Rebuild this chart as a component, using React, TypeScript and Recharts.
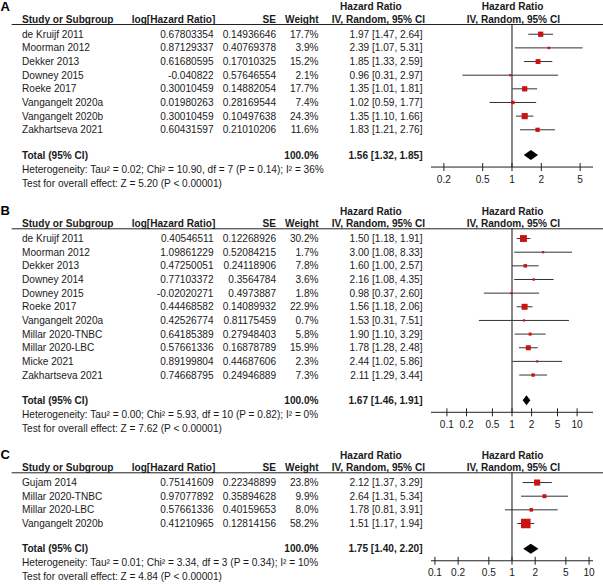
import React from 'react';
import { ComposedChart, XAxis, YAxis, Scatter, ErrorBar, ReferenceLine, ReferenceArea } from 'recharts';

// ---------- Panel A ----------
const aStudies = ['de Kruijf 2011', 'Moorman 2012', 'Dekker 2013', 'Downey 2015', 'Roeke 2017', 'Vangangelt 2020a', 'Vangangelt 2020b', 'Zakhartseva 2021'];
const aLogHR = ['0.67803354', '0.87129337', '0.61680595', '-0.040822', '0.30010459', '0.01980263', '0.30010459', '0.60431597'];
const aSE = ['0.14936646', '0.40769378', '0.17010325', '0.57646554', '0.14882054', '0.28169544', '0.10497638', '0.21010206'];
const aWeight = [17.7, 3.9, 15.2, 2.1, 17.7, 7.4, 24.3, 11.6];
const aHR = [1.97, 2.39, 1.85, 0.96, 1.35, 1.02, 1.35, 1.83];
const aLow = [1.47, 1.07, 1.33, 0.31, 1.01, 0.59, 1.10, 1.21];
const aHigh = [2.64, 5.31, 2.59, 2.97, 1.81, 1.77, 1.66, 2.76];
const aTotal = [1.56, 1.32, 1.85];
const aHet = 'Heterogeneity: Tau\u00b2 = 0.02; Chi\u00b2 = 10.90, df = 7 (P = 0.14); I\u00b2 = 36%';
const aTest = 'Test for overall effect: Z = 5.20 (P < 0.00001)';
const aTicks = [0.2, 0.5, 1, 2, 5];
const aDomain = [0.1475, 6.78];

// ---------- Panel B ----------
const bStudies = ['de Kruijf 2011', 'Moorman 2012', 'Dekker 2013', 'Downey 2014', 'Downey 2015', 'Roeke 2017', 'Vangangelt 2020a', 'Millar 2020-TNBC', 'Millar 2020-LBC', 'Micke 2021', 'Zakhartseva 2021'];
const bLogHR = ['0.40546511', '1.09861229', '0.47250051', '0.77103372', '-0.02020271', '0.44468582', '0.42526774', '0.64185389', '0.57661336', '0.89199804', '0.74668795'];
const bSE = ['0.12268926', '0.52084215', '0.24118906', '0.3564784', '0.4973887', '0.14089932', '0.81175459', '0.27948403', '0.16878789', '0.44687606', '0.24946889'];
const bWeight = [30.2, 1.7, 7.8, 3.6, 1.8, 22.9, 0.7, 5.8, 15.9, 2.3, 7.3];
const bHR = [1.50, 3.00, 1.60, 2.16, 0.98, 1.56, 1.53, 1.90, 1.78, 2.44, 2.11];
const bLow = [1.18, 1.08, 1.00, 1.08, 0.37, 1.18, 0.31, 1.10, 1.28, 1.02, 1.29];
const bHigh = [1.91, 8.33, 2.57, 4.35, 2.60, 2.06, 7.51, 3.29, 2.48, 5.86, 3.44];
const bTotal = [1.67, 1.46, 1.91];
const bHet = 'Heterogeneity: Tau\u00b2 = 0.00; Chi\u00b2 = 5.93, df = 10 (P = 0.82); I\u00b2 = 0%';
const bTest = 'Test for overall effect: Z = 7.62 (P < 0.00001)';
const bTicks = [0.1, 0.2, 0.5, 1, 2, 5, 10];
const bDomain = [0.057, 17.54];

// ---------- Panel C ----------
const cStudies = ['Gujam 2014', 'Millar 2020-TNBC', 'Millar 2020-LBC', 'Vangangelt 2020b'];
const cLogHR = ['0.75141609', '0.97077892', '0.57661336', '0.41210965'];
const cSE = ['0.22348899', '0.35894628', '0.40159653', '0.12814156'];
const cWeight = [23.8, 9.9, 8.0, 58.2];
const cHR = [2.12, 2.64, 1.78, 1.51];
const cLow = [1.37, 1.31, 0.81, 1.17];
const cHigh = [3.29, 5.34, 3.91, 1.94];
const cTotal = [1.75, 1.40, 2.20];
const cHet = 'Heterogeneity: Tau\u00b2 = 0.01; Chi\u00b2 = 3.34, df = 3 (P = 0.34); I\u00b2 = 10%';
const cTest = 'Test for overall effect: Z = 4.84 (P < 0.00001)';
const cTicks = [0.1, 0.2, 0.5, 1, 2, 5, 10];
const cDomain = [0.0889, 11.25];

const panels = [
  { letter: 'A', studies: aStudies, logHR: aLogHR, se: aSE, weight: aWeight, hr: aHR, low: aLow, high: aHigh, total: aTotal, het: aHet, test: aTest, ticks: aTicks, domain: aDomain, top: 0, height: 196, underline: 24 },
  { letter: 'B', studies: bStudies, logHR: bLogHR, se: bSE, weight: bWeight, hr: bHR, low: bLow, high: bHigh, total: bTotal, het: bHet, test: bTest, ticks: bTicks, domain: bDomain, top: 198, height: 242, underline: 228.3 },
  { letter: 'C', studies: cStudies, logHR: cLogHR, se: cSE, weight: cWeight, hr: cHR, low: cLow, high: cHigh, total: cTotal, het: cHet, test: cTest, ticks: cTicks, domain: cDomain, top: 440, height: 145, underline: 472.3 },
];

const ROW = 13.65;
const FONT = '"Liberation Sans", Arial, Helvetica, sans-serif';
const FS = 10.1;
const INK = '#1a1a1a';
const RED = '#cc1111';
const COL = { name: 22, logStart: 131.7, logRight: 213.5, seRight: 276, wRight: 318.5, ciRight: 422.5, hr1Start: 340, iv1Start: 331.7, hr2Start: 481.7, iv2Start: 466.7 };

const fmtCI = (h: number, l: number, u: number) => `${h.toFixed(2)} [${l.toFixed(2)}, ${u.toFixed(2)}]`;

const Txt = ({ x, y, children, anchor = 'start', bold = false, size = FS }: any) => (
  <text x={x} y={y} textAnchor={anchor} fontFamily={FONT} fontSize={size} fontWeight={bold ? 'bold' : 'normal'} fill={INK}>
    {children}
  </text>
);

function Panel({ p }: any) {
  const n = p.studies.length;
  const totalRow = n + 0.85;
  const plotH = (n + 2.48) * ROW;
  const marginTop = p.underline - p.top;
  const xAxisH = p.height - marginTop - plotH;
  const rows = p.studies.map((s: string, i: number) => ({
    row: i,
    hr: p.hr[i],
    w: p.weight[i],
    err: [p.hr[i] - p.low[i], p.high[i] - p.hr[i]],
  }));
  const yTicks = [...rows.map((r: any) => r.row), totalRow];

  const RowTick = (props: any) => {
    const { y, payload } = props;
    const v = payload.value;
    const b = y + 3.6;
    if (Math.abs(v - totalRow) < 1e-6) {
      return (
        <g>
          <Txt x={COL.name} y={b} bold>Total (95% CI)</Txt>
          <Txt x={COL.wRight} y={b} anchor="end" bold>100.0%</Txt>
          <Txt x={COL.ciRight} y={b} anchor="end" bold>{fmtCI(p.total[0], p.total[1], p.total[2])}</Txt>
          <Txt x={COL.name} y={b + 14}>{p.het}</Txt>
          <Txt x={COL.name} y={b + 28}>{p.test}</Txt>
        </g>
      );
    }
    const i = Math.round(v);
    const ul = y - 0.75 * ROW;
    return (
      <g>
        {i === 0 && (
          <g>
            <text x={0.5} y={ul - 13.3} fontFamily={FONT} fontSize={13} fontWeight="bold" fill="#000">{p.letter}</text>
            <Txt x={COL.hr1Start} y={ul - 13.7} bold>Hazard Ratio</Txt>
            <Txt x={COL.hr2Start} y={ul - 13.7} bold>Hazard Ratio</Txt>
            <Txt x={COL.name} y={ul - 1} bold>Study or Subgroup</Txt>
            <Txt x={COL.logStart} y={ul - 1} bold>log[Hazard Ratio]</Txt>
            <Txt x={COL.seRight} y={ul - 1} anchor="end" bold>SE</Txt>
            <Txt x={COL.wRight} y={ul - 1} anchor="end" bold>Weight</Txt>
            <Txt x={COL.iv1Start} y={ul - 1} bold>IV, Random, 95% CI</Txt>
            <Txt x={COL.iv2Start} y={ul - 1} bold>IV, Random, 95% CI</Txt>
            <line x1={11.7} x2={603} y1={ul + 0.5} y2={ul + 0.5} stroke="#222" strokeWidth={1} />
          </g>
        )}
        <Txt x={COL.name} y={b}>{p.studies[i]}</Txt>
        <Txt x={COL.logRight} y={b} anchor="end">{p.logHR[i]}</Txt>
        <Txt x={COL.seRight} y={b} anchor="end">{p.se[i]}</Txt>
        <Txt x={COL.wRight} y={b} anchor="end">{`${p.weight[i].toFixed(1)}%`}</Txt>
        <Txt x={COL.ciRight} y={b} anchor="end">{fmtCI(p.hr[i], p.low[i], p.high[i])}</Txt>
      </g>
    );
  };

  const AxisTick = (props: any) => {
    const { x, y, payload } = props;
    return (
      <g>
        <line x1={x} x2={x} y1={y - 4} y2={y + 4} stroke="#222" strokeWidth={1} />
        <Txt x={x} y={y + 15.6} anchor="middle">{String(payload.value)}</Txt>
      </g>
    );
  };

  const Square = (s: any) => {
    const size = Math.max(2.2, 1.25 * Math.sqrt(s.payload.w));
    return <rect x={s.cx - size / 2} y={s.cy - size / 2} width={size} height={size} fill={RED} />;
  };

  const Diamond = (s: any) => {
    const { x, y, width, height } = s;
    const cx = x + width / 2;
    const cy = y + height / 2;
    return <polygon points={`${x},${cy} ${cx},${y} ${x + width},${cy} ${cx},${y + height}`} fill="#000" />;
  };

  return (
    <ComposedChart width={603} height={p.height} margin={{ top: marginTop, right: 10, bottom: 0, left: 430 }}>
      <XAxis
        type="number"
        dataKey="hr"
        scale="log"
        domain={p.domain}
        allowDataOverflow
        ticks={p.ticks}
        interval={0}
        height={xAxisH}
        tickSize={0}
        tickMargin={0}
        tickLine={false}
        axisLine={{ stroke: '#222', strokeWidth: 1 }}
        tick={AxisTick}
      />
      <YAxis
        type="number"
        dataKey="row"
        reversed
        domain={[-0.75, n + 1.73]}
        allowDataOverflow
        ticks={yTicks}
        interval={0}
        width={1}
        axisLine={false}
        tickLine={false}
        tick={RowTick}
      />
      <ReferenceLine x={1} stroke="#111" strokeWidth={1} />
      <Scatter data={rows} shape={Square} isAnimationActive={false}>
        <ErrorBar dataKey="err" direction="x" width={0} stroke="#333" strokeWidth={1} isAnimationActive={false} />
      </Scatter>
      <ReferenceArea
        x1={p.total[1]}
        x2={p.total[2]}
        y1={totalRow - 0.37}
        y2={totalRow + 0.37}
        shape={Diamond}
        ifOverflow="visible"
      />
    </ComposedChart>
  );
}

export default function App() {
  return (
    <div style={{ position: 'absolute', left: 0, top: 0, width: 603, height: 585, background: '#fff', overflow: 'hidden' }}>
      {panels.map((p) => (
        <div key={p.letter} style={{ position: 'absolute', left: 0, top: p.top }}>
          <Panel p={p} />
        </div>
      ))}
    </div>
  );
}
